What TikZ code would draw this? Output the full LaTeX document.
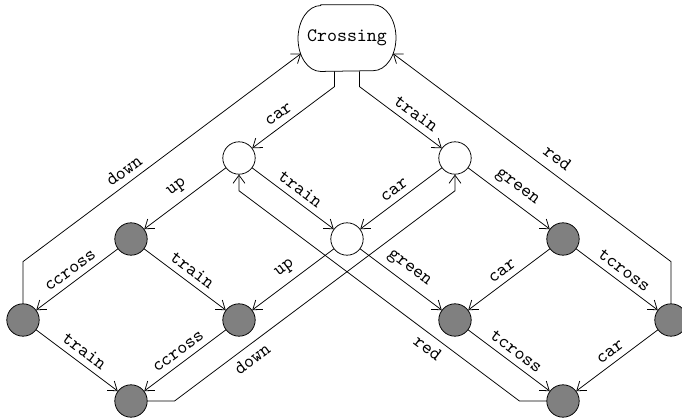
\documentclass[tikz,border=0pt]{standalone}
\usetikzlibrary{arrows.meta}

\begin{document}
\begin{tikzpicture}[
  x=1mm, y=1mm,
  state/.style={circle, draw, line width=0.4pt, minimum size=6mm, inner sep=0pt},
  busy/.style={state, fill=gray},
  home/.style={minimum width=18mm, minimum height=12.2mm, inner sep=0pt, font=\ttfamily},
  trans/.style={line width=0.4pt, -{Straight Barb[length=1.5mm,width=2.2mm]}},
  lbl/.style={font=\ttfamily, sloped, midway, above}
]
  \useasboundingbox (-4.26,-3.15) rectangle (122.04,74.26);

  \node[home] (crossing) at (60,67.2) {Crossing};
  \draw[line width=0.4pt] ([xshift=4.2mm]crossing.north west) -- ([xshift=-4.2mm]crossing.north east)
    arc[start angle=90, end angle=-90, x radius=4.2mm, y radius=6.1mm]
    -- ([xshift=4.2mm]crossing.south west)
    arc[start angle=270, end angle=90, x radius=4.2mm, y radius=6.1mm] -- cycle;

  \node[state] (carin) at (40,45) {};
  \node[state] (trainin) at (80,45) {};
  \node[state] (both) at (60,30) {};

  \node[busy] (cup) at (20,30) {};
  \node[busy] (cwait) at (40,15) {};
  \node[busy] (cgo) at (0,15) {};
  \node[busy] (cdone) at (20,0) {};
  \node[busy] (tgreen) at (100,30) {};
  \node[busy] (twait) at (80,15) {};
  \node[busy] (tgo) at (120,15) {};
  \node[busy] (tdone) at (100,0) {};

  \draw[trans] ([xshift=-2.3mm]crossing.south) -- ++(0,-2.8) -- node[lbl, pos=0.6] {car} (carin);
  \draw[trans] ([xshift=2.3mm]crossing.south) -- ++(0,-2.8) -- node[lbl, pos=0.6] {train} (trainin);

  \draw[trans] (carin) -- node[lbl] {up} (cup);
  \draw[trans] (carin) -- node[lbl] {train} (both);
  \draw[trans] (trainin) -- node[lbl] {car} (both);
  \draw[trans] (trainin) -- node[lbl] {green} (tgreen);
  \draw[trans] (both) -- node[lbl] {up} (cwait);
  \draw[trans] (both) -- node[lbl] {green} (twait);

  \draw[trans] (cup) -- node[lbl] {ccross} (cgo);
  \draw[trans] (cup) -- node[lbl] {train} (cwait);
  \draw[trans] (cgo) -- node[lbl] {train} (cdone);
  \draw[trans] (cwait) -- node[lbl] {ccross} (cdone);
  \draw[trans] (tgreen) -- node[lbl] {car} (twait);
  \draw[trans] (tgreen) -- node[lbl] {tcross} (tgo);
  \draw[trans] (twait) -- node[lbl] {tcross} (tdone);
  \draw[trans] (tgo) -- node[lbl] {car} (tdone);

  \draw[trans] (cgo) -- ([yshift=7.74mm]cgo.north) -- node[lbl, pos=0.39] {down} ([shift={(0.55mm,3.3mm)}]crossing.south west);
  \draw[trans] (tgo) -- ([yshift=7.74mm]tgo.north) -- node[lbl, pos=0.44, yshift=0.4mm] {red} ([shift={(-0.55mm,3.3mm)}]crossing.south east);
  \draw[trans] (cdone) -- ([xshift=5mm]cdone.east) -- node[lbl, below, pos=0.25] {down} ([yshift=-3mm]trainin.south) -- (trainin);
  \draw[trans] (tdone) -- ([xshift=-5mm]tdone.west) -- node[lbl, below, pos=0.3] {red} ([yshift=-3mm]carin.south) -- (carin);
\end{tikzpicture}
\end{document}
